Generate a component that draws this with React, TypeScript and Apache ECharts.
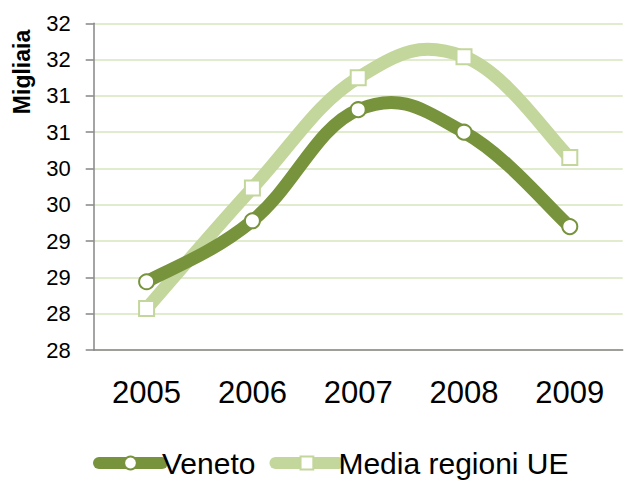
import React, { useEffect, useRef } from "react";
import * as echarts from "echarts";

const years = ["2005", "2006", "2007", "2008", "2009"];
const veneto = [28.94, 29.78, 31.31, 31.0, 29.7];
const mediaUE = [28.57, 30.23, 31.75, 32.04, 30.65];

const FONT = "'Liberation Sans', Arial, sans-serif";
const DARK = "#77933c";
const LIGHT = "#c3d69b";
const TENSION = 0.2;

function smoothSeries(name: string, values: number[], color: string, z: number) {
  return {
    name,
    type: "custom",
    z,
    silent: true,
    data: values.map((v, i) => [i, v]),
    renderItem: (params: any, api: any) => {
      const i = params.dataIndex;
      const n = values.length;
      if (i >= n - 1) return null;
      const p = (k: number) => {
        const kk = Math.max(0, Math.min(n - 1, k));
        return api.coord([kk, values[kk]]);
      };
      const p0 = p(i - 1);
      const p1 = p(i);
      const p2 = p(i + 1);
      const p3 = p(i + 2);
      return {
        type: "bezierCurve",
        shape: {
          x1: p1[0],
          y1: p1[1],
          x2: p2[0],
          y2: p2[1],
          cpx1: p1[0] + (p2[0] - p0[0]) * TENSION,
          cpy1: p1[1] + (p2[1] - p0[1]) * TENSION,
          cpx2: p2[0] - (p3[0] - p1[0]) * TENSION,
          cpy2: p2[1] - (p3[1] - p1[1]) * TENSION,
        },
        style: { stroke: color, lineWidth: 13, fill: "none", lineCap: "round" },
      };
    },
  };
}

export default function App() {
  const ref = useRef<HTMLDivElement>(null);
  useEffect(() => {
    document.body.style.margin = "0";
    const chart = echarts.init(ref.current!, null, { renderer: "svg" });
    chart.setOption({
      animation: false,
      backgroundColor: "#ffffff",
      grid: { left: 93.7, right: 4.3, top: 23.3, bottom: 131 },
      graphic: [
        {
          type: "text",
          x: 22,
          y: 72,
          rotation: Math.PI / 2,
          style: {
            text: "Migliaia",
            font: `bold 23px ${FONT}`,
            fill: "#000",
            align: "center",
            verticalAlign: "middle",
          },
        },
      ],
      legend: {
        left: 93,
        top: 448,
        padding: 0,
        itemWidth: 63,
        itemHeight: 16,
        itemGap: 14,
        textStyle: { fontFamily: FONT, fontSize: 30, color: "#000", padding: [0, 0, 0, -5] },
        data: [
          {
            name: "Veneto",
            lineStyle: { width: 12, color: DARK, cap: "round", opacity: 1 },
          },
          {
            name: "Media regioni UE",
            lineStyle: { width: 12, color: LIGHT, cap: "round", opacity: 1 },
          },
        ],
      },
      xAxis: {
        type: "category",
        data: years,
        boundaryGap: true,
        axisLine: { lineStyle: { color: "#868686", width: 1.5 } },
        axisTick: { alignWithLabel: true, length: 8, lineStyle: { color: "#868686", width: 1.5 } },
        axisLabel: { fontFamily: FONT, fontSize: 31, color: "#000", margin: 27 },
        splitLine: { show: false },
      },
      yAxis: {
        type: "value",
        min: 28,
        max: 32.5,
        interval: 0.5,
        axisLine: { show: true, lineStyle: { color: "#868686", width: 1.5 } },
        axisTick: { show: true, length: 8, lineStyle: { color: "#868686", width: 1.5 } },
        axisLabel: {
          fontFamily: FONT,
          fontSize: 22,
          color: "#000",
          margin: 23,
          formatter: (v: number) => String(Math.floor(v + 1e-9)),
        },
        splitLine: { show: true, lineStyle: { color: "#d7e4bd", width: 1.5 } },
      },
      series: [
        smoothSeries("Media regioni UE curve", mediaUE, LIGHT, 2),
        smoothSeries("Veneto curve", veneto, DARK, 3),
        {
          name: "Media regioni UE",
          type: "line",
          data: mediaUE,
          z: 4,
          symbol: "rect",
          symbolSize: 15,
          lineStyle: { color: LIGHT, width: 0 },
          itemStyle: { color: "#ffffff", borderColor: LIGHT, borderWidth: 2 },
        },
        {
          name: "Veneto",
          type: "line",
          data: veneto,
          z: 5,
          symbol: "circle",
          symbolSize: 15,
          lineStyle: { color: DARK, width: 0 },
          itemStyle: { color: "#ffffff", borderColor: DARK, borderWidth: 2 },
        },
      ],
    });
    return () => chart.dispose();
  }, []);
  return <div ref={ref} style={{ width: 627, height: 481 }} />;
}
